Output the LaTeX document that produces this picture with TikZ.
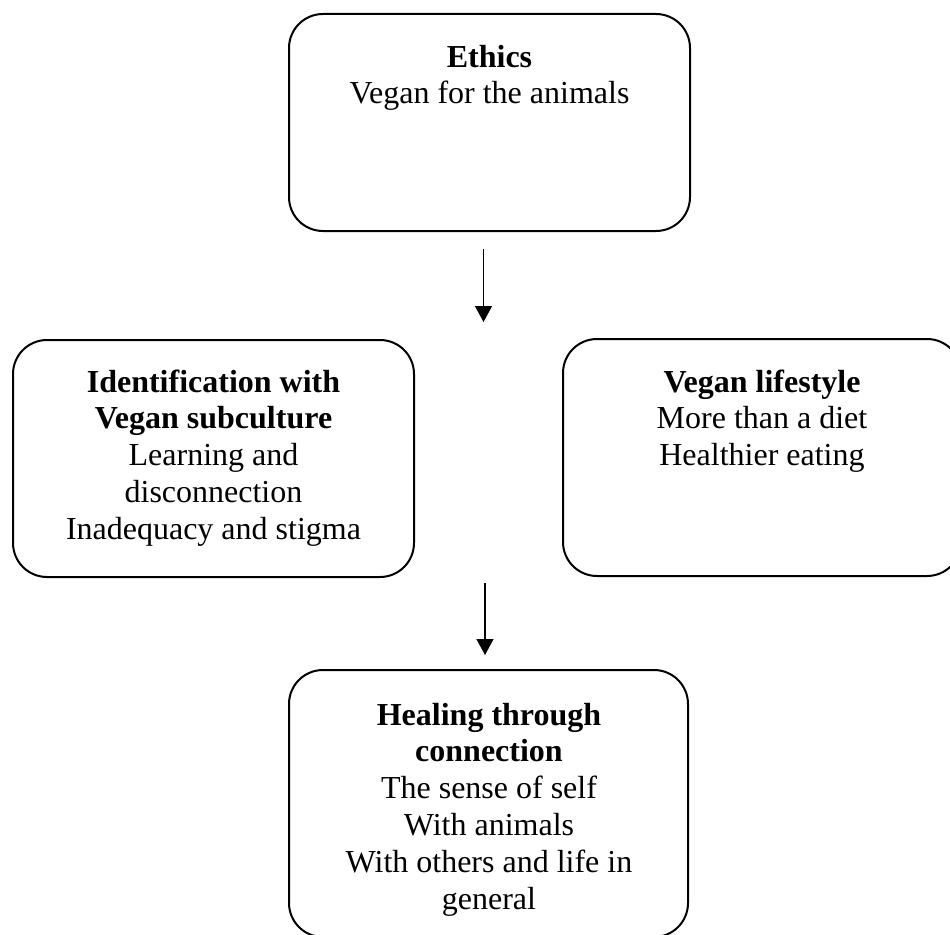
\documentclass[tikz,border=0pt]{standalone}
\usepackage{fontspec}
\setmainfont{Liberation Serif}
\usetikzlibrary{arrows.meta}
\tikzset{
  box/.style={draw=black, line width=2pt, rounded corners=34pt, inner sep=0pt, fill=none},
  label/.style={anchor=north, inner sep=0pt, align=center, font=\fontsize{32}{36.8}\selectfont},
  flow/.style={line width=1.3pt, -{Triangle[width=17pt,length=16pt]}}
}
\begin{document}
\begin{tikzpicture}[x=1pt,y=-1pt]
\useasboundingbox (0,0) rectangle (950,934);
\clip (0,0) rectangle (950,934);
% boxes
\node[box, minimum width=401pt, minimum height=217pt] (ethics) at (489.5,122.5) {};
\node[box, minimum width=401pt, minimum height=237pt] (ident) at (213.5,458.5) {};
\node[box, minimum width=398pt, minimum height=237pt] (life) at (762,457.5) {};
\node[box, minimum width=399pt, minimum height=267pt] (heal) at (488.5,803.5) {};
% texts
\node[label] (ethicsT) at (489.5,41.2) {\strut\textbf{Ethics}\\Vegan for the animals};
\node[label] (identT) at (213.5,366.2) {\strut\textbf{Identification with}\\\textbf{Vegan subculture}\\Learning and\\disconnection\\Inadequacy and stigma};
\node[label] (lifeT) at (762,366.2) {\strut\textbf{Vegan lifestyle}\\More than a diet\\Healthier eating};
\node[label] (healT) at (489,699.2) {\strut\textbf{Healing through}\\\textbf{connection}\\The sense of self\\With animals\\With others and life in\\general};
% arrows
\coordinate (a1s) at (483.5,249);
\coordinate (a1e) at (483.5,322);
\coordinate (a2s) at (485,583);
\coordinate (a2e) at (485,655);
\draw[flow] (a1s) -- (a1e);
\draw[flow] (a2s) -- (a2e);
\end{tikzpicture}
\end{document}
